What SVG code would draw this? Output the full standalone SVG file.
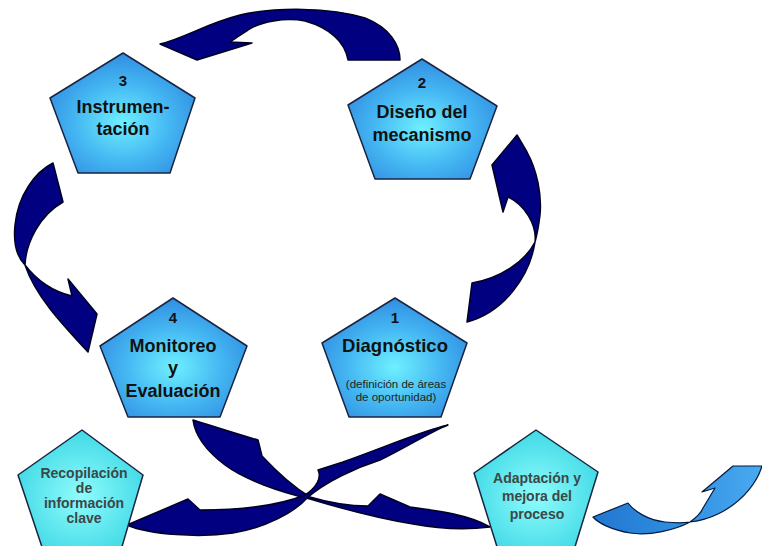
<svg xmlns="http://www.w3.org/2000/svg" width="762" height="546" viewBox="0 0 762 546">
<defs>
<radialGradient id="gMain" cx="50%" cy="58%" r="60%">
<stop offset="0" stop-color="#6ef0ff"/>
<stop offset="0.55" stop-color="#44b6f2"/>
<stop offset="1" stop-color="#2f8ae0"/>
</radialGradient>
<radialGradient id="gSub" cx="50%" cy="55%" r="60%">
<stop offset="0" stop-color="#8ffcfc"/>
<stop offset="1" stop-color="#3ad6e4"/>
</radialGradient>
<linearGradient id="gLight" x1="0" y1="0" x2="1" y2="0">
<stop offset="0" stop-color="#2277d0"/>
<stop offset="0.5" stop-color="#2f8ee0"/>
<stop offset="1" stop-color="#4aaaf0"/>
</linearGradient>
</defs>
<style>
.main{fill:url(#gMain);stroke:#1a2440;stroke-width:1.5;stroke-linejoin:round}
.sub{fill:url(#gSub);stroke:#1a2440;stroke-width:1.5;stroke-linejoin:round}
.arr{fill:#000080;stroke:#000022;stroke-width:1.5;stroke-linejoin:round}
.arrL{fill:url(#gLight);stroke:#001a40;stroke-width:1.2;stroke-linejoin:round}
.t{font-family:"Liberation Sans",Arial,sans-serif;font-weight:bold;fill:#111;text-anchor:middle}
.n{font-size:15px}
.b{font-size:18px}
.s{font-family:"Liberation Sans",Arial,sans-serif;fill:#222;text-anchor:middle;font-size:11.5px}
.st{font-family:"Liberation Sans",Arial,sans-serif;font-weight:bold;fill:#3a4848;text-anchor:middle;font-size:14px}
</style>
<rect width="762" height="546" fill="#ffffff"/>
<g id="connectors">
<path class="arr" d="M160,44 C185,38 205,24 240,15 C275,7 330,7 365,18 C390,28 400,45 400,60 L348,60 C345,42 330,28 305,21 C285,17 260,22 248,30 C240,35 235,39 230,42 L252,43 L197,60 Z"/>
<path class="arr" d="M517,135 L527,152 C537,170 542,195 540,215 C538,232 536,238 535,242 C530,275 505,312 467,322 L472,283 C500,278 525,262 535,242 C537,225 525,205 508,197 L503,212 L492,165 Z"/>
<path class="arr" d="M53,163 C35,172 18,195 15,225 C13,245 18,258 25,265 C35,295 60,322 88,352 L97,314 L68,279 L72,296 C55,292 38,282 25,265 C26,242 40,215 63,202 Z"/>
<path class="arr" d="M193,420 C200,422 230,432 258,440 L262,456 C275,470 292,486 310,497 C330,503 352,506 368,506 L380,494 L410,507 C440,511 470,515 490,527 C465,530 440,529 413,524 C375,518 340,508 310,499 C280,492 245,480 225,465 C205,450 195,435 193,420 Z"/>
<path class="arr" d="M448,425 C425,430 390,445 343,462 L318,470 C322,478 316,488 305,495 C285,503 250,510 200,510 L188,499 L127,525 C150,535 200,538 233,533 C265,528 295,512 307,498 C325,482 355,468 380,460 C405,448 430,432 448,425 Z"/>
<path class="arrL" d="M593,517 L628,503 C635,512 648,520 665,522 C675,523 684,523 690,522 C697,517 701,513 703,508 L715,488 L702,492 L733,466 L762,466 C758,480 745,500 720,513 C710,518 700,521 690,522 C675,530 650,536 630,533 C612,530 598,523 593,517 Z"/>
</g>
<g id="node3">
<polygon class="main" points="123,53 195,98 170,173 78,173 50,98"/>
<text class="t n" x="123" y="86">3</text>
<text class="t b" x="123" y="113">Instrumen-</text>
<text class="t b" x="123" y="135">tación</text>
</g>
<g id="node2">
<polygon class="main" points="422,59 497,106 470,179 375,179 348,105"/>
<text class="t n" x="422" y="88">2</text>
<text class="t b" x="422" y="118">Diseño del</text>
<text class="t b" x="422" y="141">mecanismo</text>
</g>
<g id="node4">
<polygon class="main" points="173,298 247,346 220,417 128,417 100,346"/>
<text class="t n" x="173" y="323">4</text>
<text class="t b" x="173" y="352">Monitoreo</text>
<text class="t b" x="173" y="374">y</text>
<text class="t b" x="173" y="397">Evaluación</text>
</g>
<g id="node1">
<polygon class="main" points="395,298 467,343 441,417 349,417 322,343"/>
<text class="t n" x="395" y="323">1</text>
<text class="t" style="font-size:18.5px" x="395" y="352">Diagnóstico</text>
<text class="s" x="396" y="388">(definición de áreas</text>
<text class="s" x="396" y="401">de oportunidad)</text>
</g>
<g id="nodeRecopilacion">
<polygon class="sub" points="82,430 143,475 121,550 43,550 18,475"/>
<text class="st" x="84" y="478">Recopilación</text>
<text class="st" x="84" y="493">de</text>
<text class="st" x="84" y="508">información</text>
<text class="st" x="84" y="523">clave</text>
</g>
<g id="nodeAdaptacion">
<polygon class="sub" points="536,430 598,472 574,550 498,550 474,473"/>
<text class="st" x="537" y="483">Adaptación y</text>
<text class="st" x="537" y="501">mejora del</text>
<text class="st" x="537" y="519">proceso</text>
</g>
</svg>
